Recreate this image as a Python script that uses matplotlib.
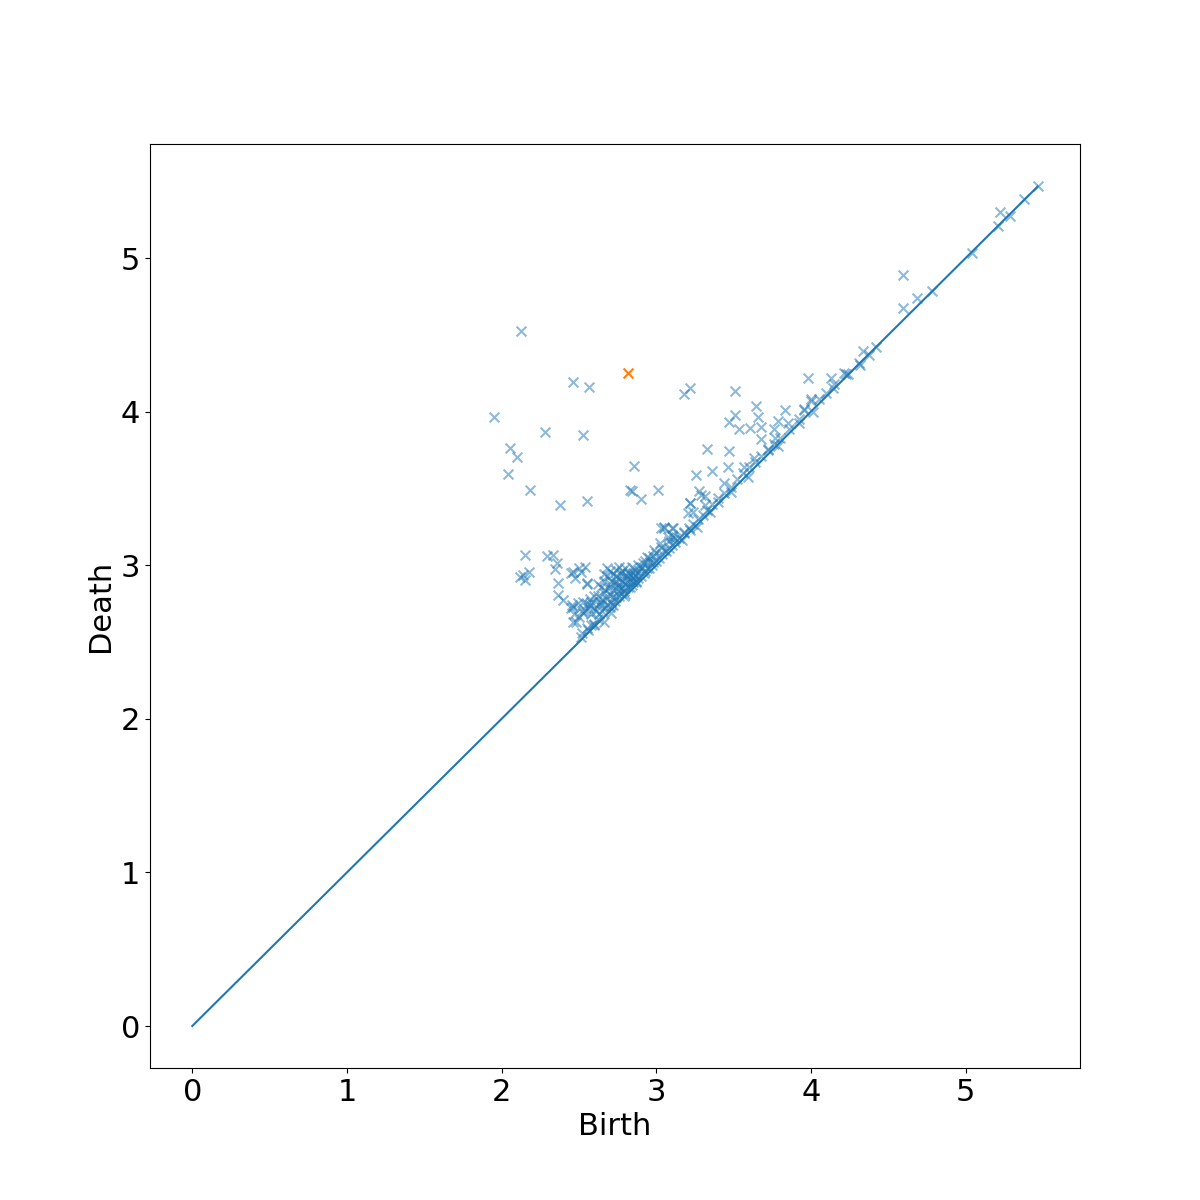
import numpy as np
import matplotlib.pyplot as plt

# ---------------------------------------------------------------------------
# Persistence pairs (birth, death)
# ---------------------------------------------------------------------------

# points far from the diagonal
far_birth = [2.128, 2.464, 2.568, 3.215, 3.182, 1.953, 2.283, 2.529, 2.057, 2.102,
             2.044, 2.186, 2.853, 2.840, 2.833, 2.898, 3.014, 2.380, 2.549, 3.512,
             2.154, 2.296, 2.329, 2.361, 2.348, 2.141, 2.180, 2.122, 2.154, 2.464,
             2.510, 2.477, 2.542, 2.367, 2.367, 2.400, 2.458, 2.529, 2.549]
far_death = [4.525, 4.193, 4.160, 4.154, 4.115, 3.965, 3.867, 3.848, 3.763, 3.704,
             3.594, 3.490, 3.646, 3.483, 3.490, 3.431, 3.490, 3.392, 3.418, 4.134,
             3.066, 3.060, 3.066, 3.014, 2.975, 2.936, 2.956, 2.923, 2.904, 2.956,
             2.956, 2.917, 2.988, 2.884, 2.806, 2.773, 2.741, 2.760, 2.884]

# upper branch along the diagonal
upper_birth = [3.984, 4.127, 4.224, 4.308, 3.642, 3.512, 3.473, 3.655, 3.829, 3.997,
               3.952, 3.532, 3.609, 3.674, 3.758, 3.790, 3.849, 3.920, 3.674, 3.765,
               3.719, 3.790, 3.331, 3.473, 3.254, 3.357, 3.461, 3.435, 3.564, 3.273,
               3.318, 3.215, 3.629, 3.590, 3.480, 3.396, 5.466, 5.375, 5.220, 5.285,
               5.207, 5.039, 4.592, 4.592, 4.683, 4.780, 4.418, 4.334, 4.373, 4.314,
               4.237, 4.211, 4.140, 4.094, 3.997, 3.952, 4.010, 3.286, 3.318, 3.221,
               3.208, 3.350, 3.240, 3.047, 3.105, 3.073, 3.111, 3.176, 3.221, 3.266,
               3.169, 3.027, 2.982, 2.943, 2.917]
upper_death = [4.219, 4.219, 4.245, 4.316, 4.036, 3.978, 3.932, 3.965, 4.010, 4.069,
               4.010, 3.887, 3.893, 3.900, 3.887, 3.939, 3.926, 3.926, 3.822, 3.828,
               3.757, 3.776, 3.757, 3.743, 3.587, 3.613, 3.639, 3.535, 3.639, 3.483,
               3.451, 3.405, 3.698, 3.574, 3.477, 3.411, 5.469, 5.384, 5.299, 5.273,
               5.208, 5.033, 4.889, 4.674, 4.740, 4.785, 4.421, 4.395, 4.368, 4.303,
               4.245, 4.251, 4.154, 4.121, 4.082, 4.017, 3.997, 3.457, 3.392, 3.405,
               3.340, 3.346, 3.346, 3.249, 3.242, 3.184, 3.184, 3.216, 3.229, 3.249,
               3.164, 3.145, 3.099, 3.053, 3.014]

# dense cluster near (2.8, 2.9)
cluster_birth = [2.510, 2.464, 2.464, 2.529, 2.497, 2.574, 2.639, 2.594, 2.659, 2.704,
                 2.723, 2.561, 2.600, 2.620, 2.640, 2.660, 2.680, 2.700, 2.720, 2.740,
                 2.760, 2.780, 2.800, 2.820, 2.840, 2.860, 2.880, 2.900, 2.930, 2.950,
                 2.700, 2.720, 2.740, 2.760, 2.780, 2.800, 2.820, 2.840, 2.860, 2.660,
                 2.680, 2.700, 2.720, 2.750, 2.780, 2.800, 2.640, 2.580, 2.560, 2.540,
                 2.580, 2.600, 2.620, 2.660, 2.680, 2.740, 2.760, 2.790, 2.810, 2.830,
                 2.850, 2.870, 2.890, 2.910, 2.940, 2.960, 2.980, 3.000, 3.030, 3.050,
                 3.080, 3.100, 3.120, 3.050, 3.030, 3.100, 2.450, 2.470, 2.480, 2.500,
                 2.520, 2.550, 2.450, 2.500, 2.550, 2.570, 2.690, 2.710, 2.730, 2.770,
                 2.810, 2.850, 2.650, 2.750, 2.790, 2.830, 2.870, 2.610, 2.630, 2.670]
cluster_death = [2.530, 2.728, 2.630, 2.689, 2.754, 2.741, 2.754, 2.611, 2.630, 2.689,
                 2.741, 2.578, 2.720, 2.800, 2.860, 2.900, 2.930, 2.960, 2.940, 2.970,
                 2.990, 2.960, 2.980, 2.950, 2.990, 2.970, 3.000, 2.980, 3.030, 3.050,
                 2.880, 2.840, 2.900, 2.860, 2.900, 2.880, 2.920, 2.900, 2.930, 2.820,
                 2.780, 2.810, 2.790, 2.830, 2.850, 2.810, 2.760, 2.680, 2.720, 2.700,
                 2.760, 2.800, 2.880, 2.940, 2.980, 2.930, 2.920, 2.930, 2.890, 2.940,
                 2.950, 2.940, 2.960, 2.990, 2.980, 3.020, 3.060, 3.080, 3.120, 3.100,
                 3.160, 3.200, 3.180, 3.240, 3.240, 3.240, 2.720, 2.680, 2.630, 2.660,
                 2.700, 2.750, 2.950, 2.980, 2.880, 2.780, 2.850, 2.900, 2.880, 2.950,
                 2.930, 2.920, 2.780, 2.870, 2.800, 2.860, 2.890, 2.700, 2.740, 2.840]

# points hugging the diagonal
near_birth = [2.520, 2.550, 2.580, 2.600, 2.620, 2.630, 2.650, 2.660, 2.680, 2.700,
              2.710, 2.730, 2.740, 2.760, 2.770, 2.790, 2.800, 2.820, 2.840, 2.850,
              2.870, 2.880, 2.900, 2.920, 2.930, 2.950, 2.970, 2.980, 3.000, 3.020,
              3.040, 3.060, 3.080, 3.100, 3.120, 3.150, 3.180, 3.210, 3.240, 3.270,
              3.300, 3.330, 3.360, 3.400, 3.440, 3.480, 3.520, 3.560, 3.600, 3.640,
              3.680, 3.720, 3.760, 3.800, 3.860, 3.920, 4.050, 4.150]
near_death = [2.560, 2.590, 2.610, 2.620, 2.650, 2.680, 2.700, 2.720, 2.740, 2.730,
              2.760, 2.770, 2.790, 2.800, 2.820, 2.830, 2.850, 2.860, 2.870, 2.890,
              2.900, 2.920, 2.930, 2.950, 2.960, 2.980, 3.000, 3.020, 3.030, 3.050,
              3.070, 3.090, 3.110, 3.130, 3.150, 3.180, 3.210, 3.240, 3.270, 3.300,
              3.330, 3.360, 3.400, 3.440, 3.470, 3.510, 3.560, 3.600, 3.640, 3.670,
              3.710, 3.750, 3.790, 3.830, 3.890, 3.950, 4.080, 4.180]

# most persistent pair (highlighted)
top_birth = [2.820]
top_death = [4.251]

diag_max = 5.466

birth = np.array(far_birth + upper_birth + cluster_birth + near_birth)
death = np.array(far_death + upper_death + cluster_death + near_death)

# ---------------------------------------------------------------------------
# Plot
# ---------------------------------------------------------------------------

fig, ax = plt.subplots(figsize=(12, 12), dpi=100)

ax.scatter(birth, death, marker="x", s=50, color="C0", alpha=0.5)
ax.scatter(top_birth, top_death, marker="x", s=50, color="C1")
ax.plot([0, diag_max], [0, diag_max], color="C0")

ax.set_xlabel("Birth", fontsize=22)
ax.set_ylabel("Death", fontsize=22)
ax.tick_params(labelsize=22)

plt.savefig("out.png", dpi=100)
